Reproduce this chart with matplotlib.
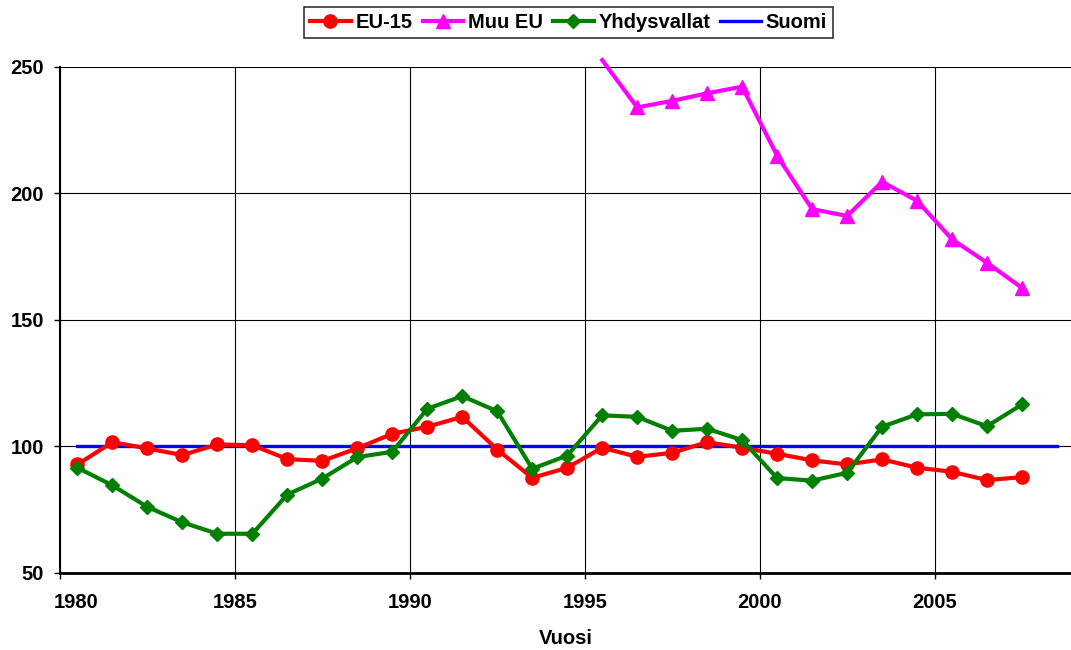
import numpy as np
import matplotlib
matplotlib.use("Agg")
import matplotlib.pyplot as plt
import matplotlib.transforms as mtransforms

plt.rcParams['font.family'] = ['Liberation Sans', 'DejaVu Sans']
plt.rcParams['font.weight'] = 'bold'

# yearly data, plotted at mid-year
years = [1980, 1981, 1982, 1983, 1984, 1985, 1986, 1987, 1988, 1989,
         1990, 1991, 1992, 1993, 1994, 1995, 1996, 1997, 1998, 1999,
         2000, 2001, 2002, 2003, 2004, 2005, 2006, 2007]
eu15 = [92.9, 101.7, 99.2, 96.6, 100.8, 100.5, 95.0, 94.3, 99.3, 105.0,
        107.8, 111.7, 98.8, 87.6, 91.6, 99.5, 95.9, 97.5, 101.7, 99.5,
        97.1, 94.5, 92.9, 94.9, 91.6, 90.0, 86.7, 87.9]
yhdysvallat = [91.6, 84.6, 76.1, 70.0, 65.5, 65.5, 81.0, 87.3, 95.8, 97.9,
               114.9, 119.9, 113.9, 91.2, 96.4, 112.3, 111.7, 106.2, 107.0, 102.5,
               87.5, 86.5, 89.6, 107.8, 112.7, 112.9, 108.0, 116.6]

muu_years = [1995, 1996, 1997, 1998, 1999, 2000, 2001, 2002, 2003, 2004,
             2005, 2006, 2007]
muu_eu = [252.7, 234.0, 236.6, 239.6, 242.2, 214.9, 193.8, 191.1, 204.6, 197.1,
          181.9, 172.6, 162.7]

suomi_years = [1980, 1981, 1982, 1983, 1984, 1985, 1986, 1987, 1988, 1989,
               1990, 1991, 1992, 1993, 1994, 1995, 1996, 1997, 1998, 1999,
               2000, 2001, 2002, 2003, 2004, 2005, 2006, 2007, 2008]
suomi = [100, 100, 100, 100, 100, 100, 100, 100, 100, 100,
         100, 100, 100, 100, 100, 100, 100, 100, 100, 100,
         100, 100, 100, 100, 100, 100, 100, 100, 100]

xticks = [1980, 1985, 1990, 1995, 2000, 2005]
yticks = [50, 100, 150, 200, 250]

fig = plt.figure(figsize=(10.71, 6.5), dpi=100)
ax = fig.add_axes([0.056, 0.1185, 0.944, 0.7785])

mid = lambda ys: np.array(ys) + 0.5

ax.plot(mid(suomi_years), suomi, color='#0000FF', lw=2.4, zorder=3, label='Suomi')
ax.plot(mid(years), eu15, color='#FF0000', lw=3, marker='o', ms=9.5,
        zorder=4, label='EU-15')
ax.plot(mid(muu_years), muu_eu, color='#FF00FF', lw=3, marker='^', ms=10,
        markevery=list(range(1, len(muu_eu))), zorder=4, label='Muu EU',
        clip_on=False)
ax.plot(mid(years), yhdysvallat, color='#008000', lw=3, marker='D', ms=7.5,
        zorder=5, label='Yhdysvallat')

ax.set_xlim(1980, 2008.9)
ax.set_ylim(50, 250)
ax.set_xticks(xticks)
ax.set_yticks(yticks)
ax.tick_params(axis='both', labelsize=14.5, length=4.5, width=1, direction='out')
ax.tick_params(axis='x', pad=10)
ax.tick_params(axis='y', pad=7)
ax.grid(True, color='black', lw=0.8)
ax.set_axisbelow(True)

for s in ['top', 'right']:
    ax.spines[s].set_visible(False)
ax.spines['left'].set_linewidth(1.5)
ax.spines['bottom'].set_linewidth(2)

# first year label sits a bit to the right of the axis
lab0 = ax.get_xticklabels()[0]
lab0.set_transform(lab0.get_transform() +
                   mtransforms.ScaledTranslation(0.16, 0, fig.dpi_scale_trans))

ax.set_xlabel('Vuosi', fontsize=14.5, fontweight='bold', labelpad=12)

h, l = ax.get_legend_handles_labels()
order = [1, 2, 3, 0]
leg = fig.legend([h[i] for i in order], [l[i] for i in order], loc='center',
                 bbox_to_anchor=(0.531, 0.965), ncol=4, fontsize=14.5,
                 frameon=True, fancybox=False, edgecolor='black',
                 handlelength=2.0, handletextpad=0.25, columnspacing=0.5,
                 borderpad=0.3)
leg.get_frame().set_linewidth(1.2)

fig.savefig('out.png', dpi=100)
